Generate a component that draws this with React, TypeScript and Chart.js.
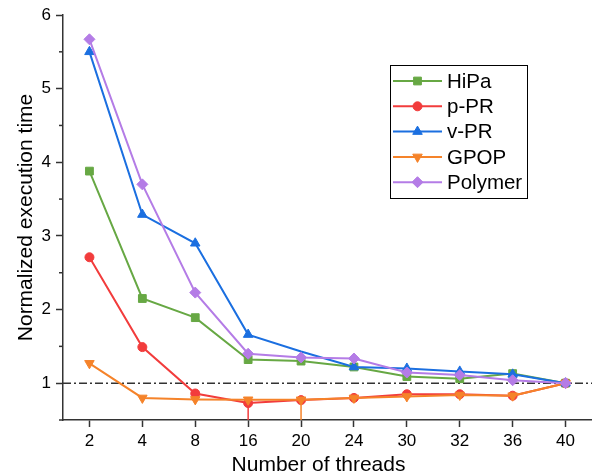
import React, { useEffect, useRef } from 'react';
import { Chart, registerables } from 'chart.js';

Chart.register(...registerables);

const threads = ['2', '4', '8', '16', '20', '24', '30', '32', '36', '40'];
const hipa = [3.88, 2.15, 1.89, 1.32, 1.3, 1.22, 1.09, 1.06, 1.13, 1.0];
const ppr = [2.71, 1.49, 0.86, 0.73, 0.77, 0.8, 0.85, 0.85, 0.83, 1.0];
const vpr = [5.5, 3.29, 2.9, 1.66, 1.43, 1.22, 1.2, 1.16, 1.12, 1.0];
const gpop = [1.27, 0.8, 0.78, 0.775, 0.775, 0.8, 0.82, 0.84, 0.83, 1.0];
const polymer = [5.67, 3.7, 2.23, 1.4, 1.35, 1.335, 1.145, 1.11, 1.04, 1.0];
const pprErrLow = [0, 0, 0, 0.5, 0, 0, 0, 0, 0, 0];
const gpopErrLow = [0, 0, 0, 0, 0.5, 0, 0, 0, 0, 0];
const baseline = 1;
const yMin = 0.5;
const yMax = 6;
const xTitle = 'Number of threads';
const yTitle = 'Normalized execution time';

const FONT = "'Liberation Sans', Arial, sans-serif";
const GREEN = '#67a844';
const RED = '#f23c3c';
const BLUE = '#1b6fe0';
const ORANGE = '#f5832a';
const PURPLE = '#b47ce6';

type Series = { label: string; data: number[]; color: string; style: string; rot: number; r: number; order: number };
const series: Series[] = [
  { label: 'HiPa', data: hipa, color: GREEN, style: 'rect', rot: 0, r: 5.5, order: 5 },
  { label: 'p-PR', data: ppr, color: RED, style: 'circle', rot: 0, r: 4.5, order: 4 },
  { label: 'v-PR', data: vpr, color: BLUE, style: 'triangle', rot: 0, r: 5.5, order: 3 },
  { label: 'GPOP', data: gpop, color: ORANGE, style: 'triangle', rot: 180, r: 5.5, order: 2 },
  { label: 'Polymer', data: polymer, color: PURPLE, style: 'rectRot', rot: 0, r: 5.5, order: 1 },
];

function drawMarker(ctx: CanvasRenderingContext2D, style: string, x: number, y: number, r: number, rotDeg: number) {
  let rad = (rotDeg * Math.PI) / 180;
  ctx.beginPath();
  if (style === 'rect') {
    const s = Math.SQRT1_2 * r;
    ctx.rect(x - s, y - s, 2 * s, 2 * s);
  } else if (style === 'circle') {
    ctx.arc(x, y, r, 0, Math.PI * 2);
  } else if (style === 'triangle') {
    for (let i = 0; i < 3; i++) {
      const px = x + Math.sin(rad) * r;
      const py = y - Math.cos(rad) * r;
      if (i === 0) ctx.moveTo(px, py);
      else ctx.lineTo(px, py);
      rad += (2 * Math.PI) / 3;
    }
  } else if (style === 'rectRot') {
    ctx.moveTo(x - r, y);
    ctx.lineTo(x, y - r);
    ctx.lineTo(x + r, y);
    ctx.lineTo(x, y + r);
  }
  ctx.closePath();
  ctx.fill();
  ctx.stroke();
}

const refLinePlugin = {
  id: 'refLine',
  beforeDatasetsDraw(chart: any) {
    const { ctx, chartArea, scales } = chart;
    const py = scales.y.getPixelForValue(baseline);
    ctx.save();
    ctx.strokeStyle = '#333';
    ctx.lineWidth = 1.5;
    ctx.setLineDash([8, 3, 2, 3]);
    ctx.beginPath();
    ctx.moveTo(chartArea.left, py);
    ctx.lineTo(chartArea.right, py);
    ctx.stroke();
    ctx.restore();
  },
};

const errorBarPlugin = {
  id: 'errorBars',
  beforeDatasetsDraw(chart: any) {
    const { ctx, chartArea, scales } = chart;
    const bars: [number[], number[], string][] = [
      [ppr, pprErrLow, RED],
      [gpop, gpopErrLow, ORANGE],
    ];
    ctx.save();
    ctx.beginPath();
    ctx.rect(chartArea.left, chartArea.top, chartArea.right - chartArea.left, chartArea.bottom - chartArea.top);
    ctx.clip();
    bars.forEach(([vals, errs, color]) => {
      vals.forEach((v, i) => {
        if (!errs[i]) return;
        const px = scales.x.getPixelForValue(i);
        ctx.strokeStyle = color;
        ctx.lineWidth = 1.5;
        ctx.beginPath();
        ctx.moveTo(px, scales.y.getPixelForValue(v));
        ctx.lineTo(px, scales.y.getPixelForValue(v - errs[i]));
        ctx.stroke();
      });
    });
    ctx.restore();
  },
};

const minorTickPlugin = {
  id: 'minorTicks',
  afterDraw(chart: any) {
    const { ctx, chartArea, scales } = chart;
    ctx.save();
    ctx.strokeStyle = '#333';
    ctx.lineWidth = 1.5;
    scales.y.ticks.forEach((t: any) => {
      if (Number.isInteger(t.value)) return;
      const py = scales.y.getPixelForValue(t.value);
      ctx.beginPath();
      ctx.moveTo(chartArea.left - 4, py);
      ctx.lineTo(chartArea.left, py);
      ctx.stroke();
    });
    ctx.restore();
  },
};

const xTitlePlugin = {
  id: 'xTitle',
  afterDraw(chart: any) {
    const { ctx } = chart;
    ctx.save();
    ctx.fillStyle = '#000';
    ctx.font = `21px ${FONT}`;
    ctx.textAlign = 'center';
    ctx.textBaseline = 'middle';
    ctx.fillText(xTitle, 318.5, chart.height - 8.4);
    ctx.restore();
  },
};

const legendPlugin = {
  id: 'boxLegend',
  afterDraw(chart: any) {
    const { ctx } = chart;
    const left = 390;
    const top = 65;
    const w = 137;
    const h = 133;
    const rowTop = 81;
    const rowGap = 25.3;
    ctx.save();
    ctx.fillStyle = '#fff';
    ctx.fillRect(left, top, w, h);
    ctx.strokeStyle = '#000';
    ctx.lineWidth = 1;
    ctx.strokeRect(left + 0.5, top + 0.5, w, h);
    series.forEach((s, i) => {
      const y = rowTop + i * rowGap;
      ctx.strokeStyle = s.color;
      ctx.fillStyle = s.color;
      ctx.lineWidth = 2;
      ctx.beginPath();
      ctx.moveTo(393, y);
      ctx.lineTo(442, y);
      ctx.stroke();
      ctx.lineWidth = 1;
      drawMarker(ctx, s.style, 417.5, y, s.r, s.rot);
      ctx.fillStyle = '#000';
      ctx.font = `20.5px ${FONT}`;
      ctx.textBaseline = 'middle';
      ctx.textAlign = 'left';
      ctx.fillText(s.label, 447, y + 1);
    });
    ctx.restore();
  },
};

export default function App() {
  const ref = useRef<HTMLCanvasElement | null>(null);
  useEffect(() => {
    if (!ref.current) return;
    Chart.defaults.font.family = FONT;
    const chart = new Chart(ref.current, {
      type: 'line',
      data: {
        labels: threads,
        datasets: series.map((s) => ({
          label: s.label,
          data: s.data,
          borderColor: s.color,
          backgroundColor: s.color,
          borderWidth: 2,
          pointStyle: s.style as any,
          pointRotation: s.rot,
          pointRadius: s.label === 'v-PR' ? s.data.map((_, i) => (i === 4 ? 0 : s.r)) : s.r,
          pointBorderWidth: 1,
          pointHoverRadius: s.r,
          tension: 0,
          order: s.order,
        })),
      },
      options: {
        responsive: false,
        animation: false,
        layout: { autoPadding: false, padding: { top: 15, right: 0, left: 0, bottom: 0 } },
        plugins: { legend: { display: false }, tooltip: { enabled: false } },
        scales: {
          x: {
            type: 'category',
            offset: true,
            ticks: { color: '#000', font: { size: 17, family: FONT }, padding: 4, autoSkip: false, maxRotation: 0 },
            grid: { drawOnChartArea: false, drawTicks: true, tickLength: 7, tickColor: '#333', tickWidth: 1.5, offset: false },
            border: { display: true, color: '#333', width: 1.5 },
            title: { display: false, text: xTitle },
            afterFit: (s: any) => {
              s.height = 54;
              s.paddingLeft = 0;
              s.paddingRight = 0;
            },
          },
          y: {
            min: yMin,
            max: yMax,
            ticks: {
              stepSize: 0.5,
              color: '#000',
              font: { size: 17, family: FONT },
              padding: 5,
              autoSkip: false,
              callback: (v: any) => (Number.isInteger(v) ? String(v) : ''),
            },
            grid: {
              drawOnChartArea: false,
              drawTicks: true,
              tickLength: 7,
              tickWidth: 1.5,
              tickColor: (c: any) => (Number.isInteger(c.tick?.value) ? '#333' : 'rgba(0,0,0,0)'),
            },
            border: { display: true, color: '#333', width: 1.5 },
            title: { display: true, text: yTitle, color: '#000', font: { size: 21, family: FONT, lineHeight: 1.2 }, padding: { top: 13.5, bottom: 0 } },
            afterFit: (s: any) => {
              s.width = 63;
              s.paddingTop = 0;
              s.paddingBottom = 0;
            },
          },
        },
      },
      plugins: [refLinePlugin, errorBarPlugin, minorTickPlugin, xTitlePlugin, legendPlugin],
    });
    return () => chart.destroy();
  }, []);
  return (
    <div style={{ position: 'fixed', left: 0, top: 0, width: 592, height: 474, background: '#fff' }}>
      <canvas ref={ref} width={592} height={474} style={{ display: 'block' }} />
    </div>
  );
}
